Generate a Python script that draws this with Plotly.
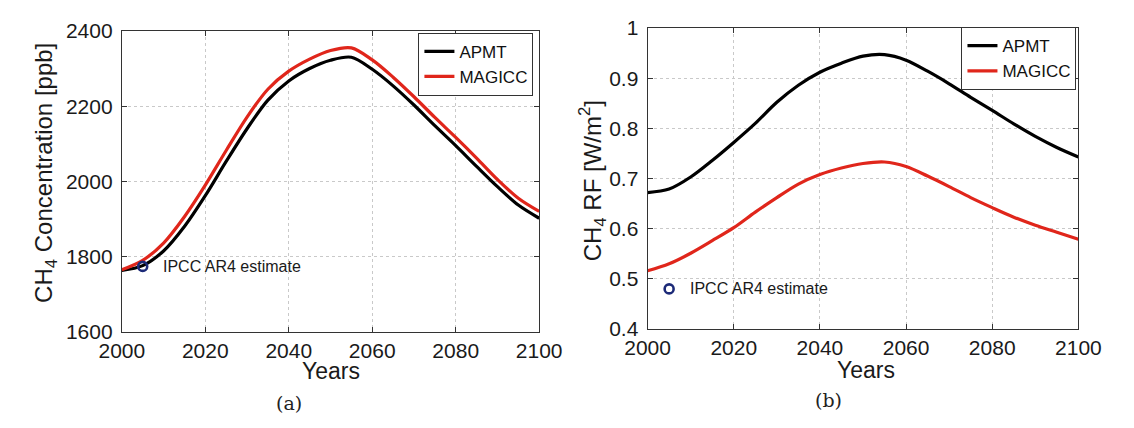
import plotly.graph_objects as go

W, H = 1134, 428

# ---------------- data ----------------
years = [2000, 2005, 2010, 2015, 2020, 2025, 2030, 2035, 2040, 2045, 2050,
         2055, 2060, 2065, 2070, 2075, 2080, 2085, 2090, 2095, 2100]

conc_apmt = [1763, 1776, 1815, 1880, 1962, 2053, 2140, 2216, 2267, 2300, 2322,
             2330, 2298, 2254, 2203, 2148, 2095, 2040, 1986, 1937, 1902]
conc_magicc = [1765, 1790, 1836, 1906, 1990, 2082, 2171, 2245, 2293, 2325, 2348,
               2355, 2323, 2277, 2225, 2170, 2117, 2062, 2005, 1955, 1920]

rf_apmt = [0.672, 0.679, 0.703, 0.736, 0.772, 0.810, 0.852, 0.886, 0.912, 0.930, 0.944,
           0.947, 0.936, 0.914, 0.889, 0.862, 0.836, 0.809, 0.784, 0.762, 0.743]
rf_magicc = [0.516, 0.530, 0.551, 0.576, 0.602, 0.633, 0.662, 0.689, 0.708, 0.721, 0.730,
             0.733, 0.724, 0.705, 0.684, 0.662, 0.642, 0.623, 0.607, 0.593, 0.579]

ipcc_year = [2005]
ipcc_conc = [1774]
ipcc_rf = [0.48]

x_ticks = [2000, 2020, 2040, 2060, 2080, 2100]
conc_ticks = [1600, 1800, 2000, 2200, 2400]
rf_ticks = [0.4, 0.5, 0.6, 0.7, 0.8, 0.9, 1.0]
rf_ticktext = ["0.4", "0.5", "0.6", "0.7", "0.8", "0.9", "1"]

# ---------------- layout helpers ----------------
def px(x):
    return x / W

def py(y):
    return 1 - y / H

L_X0, L_X1, L_Y0, L_Y1 = 103, 538, 20, 338
R_X0, R_X1, R_Y0, R_Y1 = 651, 1100, 17, 335

FONT = "Liberation Sans, Arial, sans-serif"
BLACK = "#000000"
RED = "#e0261b"
BLUE = "#1c2a78"
TXT = "#1a1a1a"

fig = go.Figure()

line_w = 3.2
spl = dict(shape="spline", smoothing=0.9)
fig.add_trace(go.Scatter(x=years, y=conc_apmt, mode="lines", name="APMT",
                         line=dict(color=BLACK, width=line_w, **spl),
                         xaxis="x", yaxis="y", legend="legend"))
fig.add_trace(go.Scatter(x=years, y=conc_magicc, mode="lines", name="MAGICC",
                         line=dict(color=RED, width=line_w, **spl),
                         xaxis="x", yaxis="y", legend="legend"))
fig.add_trace(go.Scatter(x=ipcc_year, y=ipcc_conc, mode="markers", showlegend=False,
                         marker=dict(symbol="circle-open", size=9, color=BLUE,
                                     line=dict(width=2.6, color=BLUE)),
                         xaxis="x", yaxis="y"))

fig.add_trace(go.Scatter(x=years, y=rf_apmt, mode="lines", name="APMT",
                         line=dict(color=BLACK, width=line_w, **spl),
                         xaxis="x2", yaxis="y2", legend="legend2"))
fig.add_trace(go.Scatter(x=years, y=rf_magicc, mode="lines", name="MAGICC",
                         line=dict(color=RED, width=line_w, **spl),
                         xaxis="x2", yaxis="y2", legend="legend2"))
fig.add_trace(go.Scatter(x=ipcc_year, y=ipcc_rf, mode="markers", showlegend=False,
                         marker=dict(symbol="circle-open", size=9, color=BLUE,
                                     line=dict(width=2.6, color=BLUE)),
                         xaxis="x2", yaxis="y2"))

axis_common = dict(
    showline=True, linecolor="#333333", linewidth=1, mirror="ticks",
    ticks="inside", ticklen=5, tickcolor="#333333",
    showgrid=True, gridcolor="#c9c9c9", gridwidth=1, griddash="dot",
    zeroline=False, tickfont=dict(family=FONT, size=21, color=TXT),
)

leg_common = dict(xanchor="right", yanchor="top",
                  bgcolor="white", bordercolor="#333333", borderwidth=1,
                  font=dict(family=FONT, size=17, color="#111"), itemwidth=30,
                  tracegroupgap=0)

fig.update_layout(
    width=W, height=H,
    margin=dict(l=0, r=0, t=0, b=0),
    paper_bgcolor="white", plot_bgcolor="white",
    xaxis=dict(domain=[px(L_X0), px(L_X1)], range=[2000, 2100], tickvals=x_ticks,
               anchor="y", ticklabelstandoff=0, **axis_common),
    yaxis=dict(domain=[py(L_Y1), py(L_Y0)], range=[1600, 2400], tickvals=conc_ticks,
               anchor="x", ticklabelstandoff=4, **axis_common),
    xaxis2=dict(domain=[px(R_X0), px(R_X1)], range=[2000, 2100], tickvals=x_ticks,
                anchor="y2", ticklabelstandoff=0, **axis_common),
    yaxis2=dict(domain=[py(R_Y1), py(R_Y0)], range=[0.4, 1.0], tickvals=rf_ticks,
                ticktext=rf_ticktext, anchor="x2", ticklabelstandoff=4, **axis_common),
    legend=dict(x=px(532), y=py(22), **leg_common),
    legend2=dict(x=px(1098), y=py(16), **leg_common),
    showlegend=True,
)

ann = []
# IPCC labels (data coordinates)
ann.append(dict(x=2009.3, y=ipcc_conc[0], xref="x", yref="y", text="IPCC AR4 estimate",
                showarrow=False, xanchor="left", yanchor="middle",
                font=dict(family=FONT, size=16, color=TXT)))
ann.append(dict(x=2009.3, y=ipcc_rf[0], xref="x2", yref="y2", text="IPCC AR4 estimate",
                showarrow=False, xanchor="left", yanchor="middle",
                font=dict(family=FONT, size=16, color=TXT)))
# axis titles
ann.append(dict(x=px(321), y=py(379), xref="paper", yref="paper", text="Years",
                showarrow=False, xanchor="center", yanchor="middle",
                font=dict(family=FONT, size=23, color=TXT)))
ann.append(dict(x=px(879), y=py(378), xref="paper", yref="paper", text="Years",
                showarrow=False, xanchor="center", yanchor="middle",
                font=dict(family=FONT, size=23, color=TXT)))
ann.append(dict(x=px(24), y=py(170), xref="paper", yref="paper",
                text="CH<sub>4</sub> Concentration [ppb]", textangle=-90,
                showarrow=False, xanchor="center", yanchor="middle",
                font=dict(family=FONT, size=24, color=TXT)))
ann.append(dict(x=px(594), y=py(178), xref="paper", yref="paper",
                text="CH<sub>4</sub> RF [W/m<sup>2</sup>]", textangle=-90,
                showarrow=False, xanchor="center", yanchor="middle",
                font=dict(family=FONT, size=24, color=TXT)))
# captions
ann.append(dict(x=px(277), y=py(413), xref="paper", yref="paper", text="(a)",
                showarrow=False, xanchor="center", yanchor="middle",
                font=dict(family="DejaVu Serif, Liberation Serif, serif", size=19, color="#222")))
ann.append(dict(x=px(840), y=py(410), xref="paper", yref="paper", text="(b)",
                showarrow=False, xanchor="center", yanchor="middle",
                font=dict(family="DejaVu Serif, Liberation Serif, serif", size=19, color="#222")))
fig.update_layout(annotations=ann)

fig.write_html("out.html")
